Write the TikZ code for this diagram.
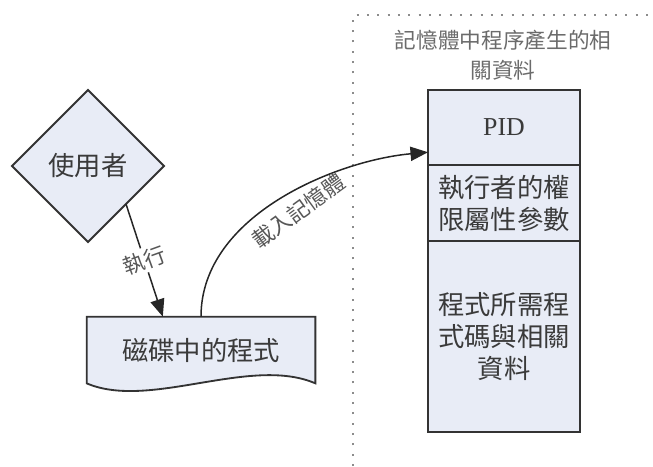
\documentclass[tikz,border=0pt]{standalone}
\usepackage{fontspec}
\setmainfont{Noto Sans CJK TC}
\newfontfamily\pidfont{Liberation Serif}
\usetikzlibrary{shapes.geometric,positioning,calc,arrows.meta,backgrounds}
\definecolor{boxfill}{RGB}{232,236,246}
\definecolor{inktext}{RGB}{58,58,58}
\definecolor{dotgray}{RGB}{140,140,140}

\begin{document}
\begin{tikzpicture}[x=0.6pt, y=-0.6pt,
    bigtext/.style={font=\fontsize{15.8pt}{19.2pt}\selectfont, text=inktext},
    smalltext/.style={font=\fontsize{13pt}{18pt}\selectfont, text=inktext!85},
    block/.style={draw=black!80, line width=1.1pt, fill=boxfill, bigtext,
      minimum width=91.2pt, inner sep=0pt, outer sep=0pt, align=center},
    conn/.style={line width=0.9pt, black!85, -{Triangle[length=10.5pt,width=8.5pt]}},
    lbl/.style={smalltext, fill=white, inner sep=1.5pt}]

    \useasboundingbox (0,0) rectangle (653,466);

    % Memory area (dotted frame)
    \draw[dotgray, line width=1.2pt, dash pattern=on 1.2pt off 5pt]
      (353,466) -- (353,15) -- (653,15);
    \node[smalltext, align=center, text=inktext!75] (memtitle) at (503,55)
      {記憶體中程序產生的相\\關資料};

    % Process data blocks
    \node[block, minimum height=45pt,
      font=\pidfont\fontsize{15.5pt}{18pt}\selectfont] (pid) at (504,127.5) {PID};
    \node[block, minimum height=45.6pt, below=0pt of pid] (perm)
      {執行者的權\\限屬性參數};
    \node[block, minimum height=114.6pt, below=0pt of perm] (code)
      {程式所需程\\式碼與相關\\資料};

    % User and program on disk
    \node[block, diamond, aspect=1, minimum width=91.2pt, minimum height=91.2pt]
      (user) at (88,166) {使用者};
    \node[bigtext, minimum width=136.8pt, minimum height=39.6pt, inner sep=0pt]
      (doc) at (201,350) {磁碟中的程式};
    \begin{scope}[on background layer]
      \draw[draw=black!80, line width=1.1pt, fill=boxfill]
        (doc.south west) -- (doc.north west) -- (doc.north east) -- (doc.south east)
        .. controls +(-65,-28) and +(63,27) .. (doc.south west) -- cycle;
    \end{scope}

    % Connectors
    \coordinate (exectip) at ($(doc.north west)!0.333!(doc.north east)$);
    \draw[conn] (user.south east) -- (exectip)
      node[lbl, pos=0.5, rotate=20] (execlbl) {執行};
    \coordinate (loadtip) at ($(pid.south west)!0.17!(pid.north west)$);
    \draw[conn] (doc.north) .. controls +(0,-102) and +(-90,8) .. (loadtip);
    \node[smalltext, rotate=36, inner sep=0pt] (loadlbl) at (298,211) {載入記憶體};
\end{tikzpicture}
\end{document}
